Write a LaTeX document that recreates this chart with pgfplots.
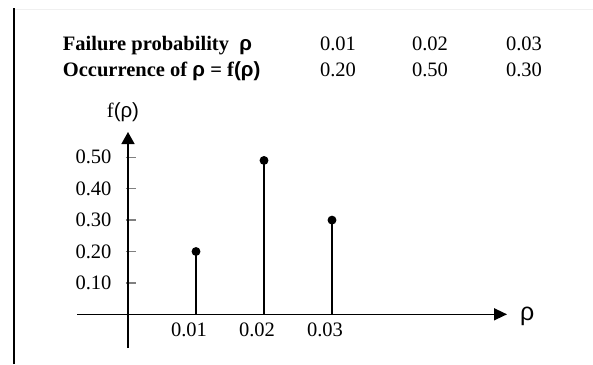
\documentclass[border=0pt]{standalone}
\usepackage{fontspec}
\setmainfont{Liberation Serif}
\newfontfamily\sans{Liberation Sans}
\usepackage{pgfplots}
\pgfplotsset{compat=1.18}
\usetikzlibrary{arrows.meta}
\begin{document}
\begin{tikzpicture}[x=1bp,y=1bp]
\path[use as bounding box] (0,0) rectangle (593,364);
\draw[black!6, line width=0.8bp] (15,355) -- (593,355);
\draw[line width=2.4bp] (14,0) -- (14,355.5);
\begin{scope}[font=\fontsize{20.5bp}{23bp}\selectfont]
\node[anchor=base west, inner sep=0] at (62.7,314) {\textbf{Failure probability}\ \ {\sans\bfseries ρ}};
\node[anchor=base west, inner sep=0] at (62.7,288) {\textbf{Occurrence of}\ {\sans\bfseries ρ} \textbf{= f}{\sans\bfseries(ρ)}};
\node[anchor=base, inner sep=0] at (338,314) {0.01};
\node[anchor=base, inner sep=0] at (430,314) {0.02};
\node[anchor=base, inner sep=0] at (524,314) {0.03};
\node[anchor=base, inner sep=0] at (338,288) {0.20};
\node[anchor=base, inner sep=0] at (430,288) {0.50};
\node[anchor=base, inner sep=0] at (524,288) {0.30};
\node[anchor=base, inner sep=0] at (123,247) {f{\sans(ρ)}};
\end{scope}
\node[anchor=base west, inner sep=0, font=\sans\fontsize{25bp}{27bp}\selectfont] at (520,43.5) {ρ};
\begin{axis}[
  at={(77bp,16bp)}, anchor=south west,
  scale only axis, width=430bp, height=216bp,
  xmin=-0.0075, xmax=0.055735, ymin=-0.1073, ymax=0.5806,
  axis lines=center, clip=false,
  scaled x ticks=false, scaled y ticks=false,
  axis line style={line width=1.5bp},
  x axis line style={-{Triangle[length=13bp,width=12bp]}},
  y axis line style={-{Triangle[length=12bp,width=13bp]}},
  xtick={0.01,0.02,0.03}, xticklabels={0.01,0.02,0.03},
  ytick={0.1,0.2,0.3,0.4,0.5}, yticklabels={0.10,0.20,0.30,0.40,0.50},
  tick align=center, major tick length=10bp,
  xtick style={draw=none},
  ytick style={line width=1.3bp, xshift=2.5bp},
  ticklabel style={font=\fontsize{20.5bp}{23bp}\selectfont},
  xticklabel style={xshift=-7bp},
  yticklabel style={xshift=-8bp},
]
\addplot[ycomb, black, line width=1.2bp, mark=*, mark size=3.8bp, mark options={fill=black}]
  coordinates {(0.01,0.2) (0.02,0.49) (0.03,0.3)};
\end{axis}
\end{tikzpicture}
\end{document}
